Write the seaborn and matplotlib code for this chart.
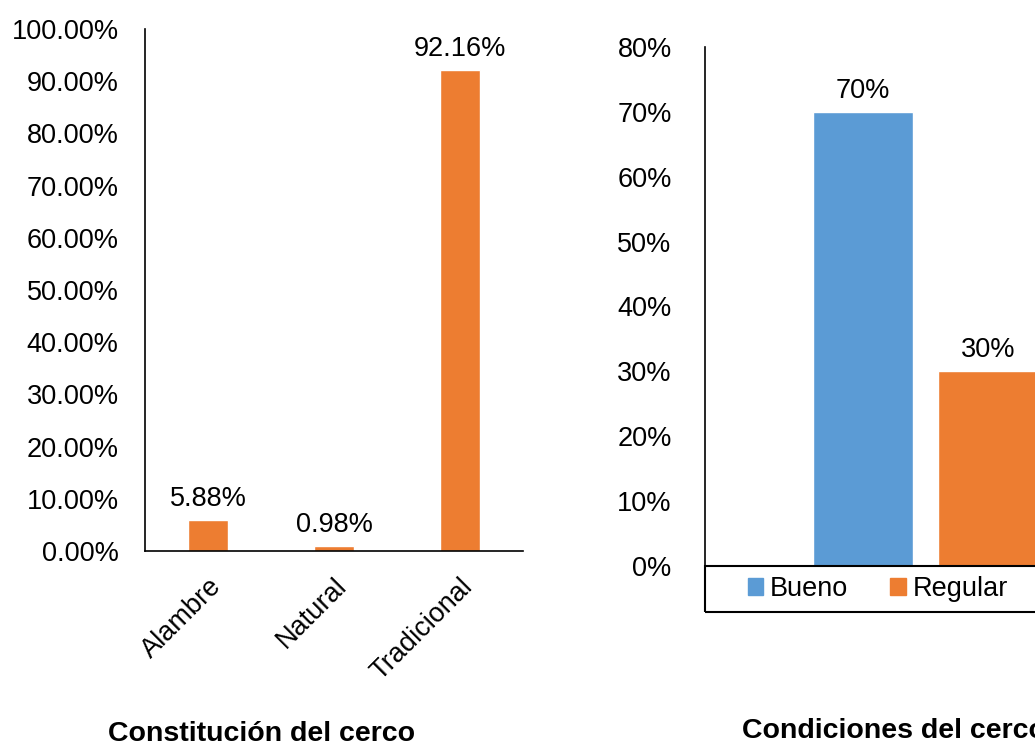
import matplotlib
matplotlib.use('Agg')
import matplotlib.pyplot as plt
import seaborn as sns
import pandas as pd
from matplotlib.patches import Patch, Rectangle
from matplotlib.ticker import FuncFormatter

# datos
tipos = ['Alambre', 'Natural', 'Tradicional']
pct_tipos = [5.88, 0.98, 92.16]

condiciones = ['Bueno', 'Regular']
pct_cond = [70, 30]

naranja = '#ED7D31'
azul = '#5B9BD5'

sns.set_style('white')
plt.rcParams['font.family'] = ['Liberation Sans', 'DejaVu Sans']
plt.rcParams['text.color'] = 'black'
plt.rcParams['xtick.color'] = 'black'
plt.rcParams['ytick.color'] = 'black'
fs = 19.5

W, H = 1035, 746
fig = plt.figure(figsize=(W / 100, H / 100), dpi=100)

def px_axes(x0, y_top, x1, y_bot):
    return fig.add_axes([x0 / W, 1 - y_bot / H, (x1 - x0) / W, (y_bot - y_top) / H])

# panel izquierdo
ax1 = px_axes(145, 29, 523, 551)
df1 = pd.DataFrame({'tipo': tipos, 'pct': pct_tipos})
sns.barplot(data=df1, x='tipo', y='pct', color=naranja, saturation=1,
            width=0.317, errorbar=None, ax=ax1)
ax1.set_xlim(-0.5, 2.5)
ax1.set_ylim(0, 100)
ax1.set_yticks(range(0, 101, 10))
ax1.yaxis.set_major_formatter(FuncFormatter(lambda v, p: f'{v:.2f}%'))
ax1.bar_label(ax1.containers[0], labels=[f'{v:.2f}%' for v in pct_tipos],
              padding=6, fontsize=fs, color='black')
ax1.set_xlabel('')
ax1.set_ylabel('')
ax1.tick_params(axis='both', length=0, labelsize=fs)
ax1.tick_params(axis='y', pad=19)
ax1.tick_params(axis='x', pad=16)
for lab in ax1.get_xticklabels():
    lab.set_rotation(45)
    lab.set_ha('right')
    lab.set_va('top')
    lab.set_rotation_mode('anchor')
for s in ['top', 'right']:
    ax1.spines[s].set_visible(False)
for s in ['left', 'bottom']:
    ax1.spines[s].set_color('black')
    ax1.spines[s].set_linewidth(1.2)

# panel derecho
ax2 = px_axes(705, 47, 1145, 566)
df2 = pd.DataFrame({'cond': condiciones, 'pct': pct_cond})
sns.barplot(data=df2, x='cond', y='pct', hue='cond', palette=[azul, naranja],
            saturation=1, width=0.8, errorbar=None, legend=False, ax=ax2)
ax2.set_xlim(-1.264, 2.256)
ax2.set_ylim(0, 80)
ax2.set_yticks(range(0, 81, 10))
ax2.yaxis.set_major_formatter(FuncFormatter(lambda v, p: f'{v:.0f}%'))
for c, v in zip(ax2.containers, pct_cond):
    ax2.bar_label(c, labels=[f'{v}%'], padding=6, fontsize=fs, color='black')
ax2.set_xticks([])
ax2.set_xlabel('')
ax2.set_ylabel('')
ax2.tick_params(axis='y', length=0, labelsize=fs, pad=24)
for s in ['top', 'right', 'bottom']:
    ax2.spines[s].set_visible(False)
ax2.spines['left'].set_color('black')
ax2.spines['left'].set_linewidth(1.2)

# caja de leyenda bajo el eje
fig.patches.append(Rectangle((705 / W, 1 - 612 / H), 360 / W, 46 / H,
                             transform=fig.transFigure, fill=False,
                             edgecolor='black', linewidth=1.5))
handles = [Patch(color=azul, label='Bueno'), Patch(color=naranja, label='Regular')]
fig.legend(handles=handles, loc='center', bbox_to_anchor=(878 / W, 1 - 589 / H),
           ncol=2, frameon=False, fontsize=fs, handlelength=0.56,
           handleheight=0.56, handletextpad=0.25, columnspacing=1.55)

# titulos
fig.text(262 / W, 1 - 734 / H, 'Constitución del cerco', ha='center', va='center',
         fontsize=20.5, fontweight='bold')
fig.text(742 / W, 1 - 731 / H, 'Condiciones del cerco', ha='left', va='center',
         fontsize=20.5, fontweight='bold')

fig.savefig('out.png', dpi=100)
